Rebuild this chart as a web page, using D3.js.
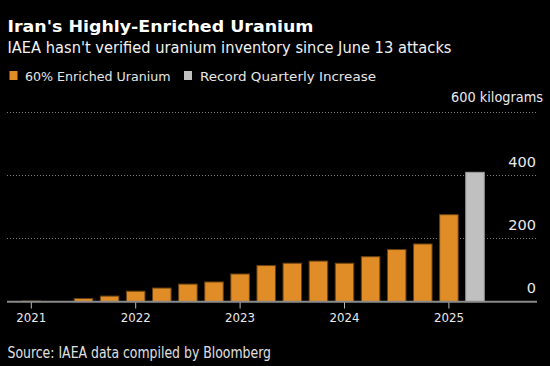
<!DOCTYPE html>
<html><head><meta charset="utf-8">
<script src="https://cdn.jsdelivr.net/npm/d3@7"></script>
<style>html,body{margin:0;padding:0;background:#000;}svg{display:block;}</style>
</head><body><svg id="c" width="550" height="366"></svg>
<script>
// ---- data ----
const quarters = ["Feb 2021","May 2021","Sep 2021","Nov 2021","Feb 2022","May 2022","Sep 2022","Nov 2022",
  "Feb 2023","May 2023","Sep 2023","Nov 2023","Feb 2024","May 2024","Aug 2024","Nov 2024","Feb 2025","May 2025"];
const enriched60 = [2, 0, 10, 17.7, 33.2, 43.1, 55.6, 62.3, 87.5, 114.1, 121.6, 128.3, 121.5, 142.1, 164.7, 182.3, 274.8, null];
const recordIncrease = [null, null, null, null, null, null, null, null, null, null, null, null, null, null, null, null, null, 408.6];
const yearTickIndex = [0, 4, 8, 12, 16];
const yearTickLabels = ["2021", "2022", "2023", "2024", "2025"];
const yTicks = [0, 200, 400];
const yMax = 600;
const seriesNames = ["60% Enriched Uranium", "Record Quarterly Increase"];
const seriesColors = ["#E08D27", "#C0C0C0"];

const svg = d3.select("#c");
const FONT = "'DejaVu Sans', Verdana, sans-serif";

function txt(x, y, s, size, opts = {}) {
  const t = svg.append("text").attr("x", x).attr("y", y).text(s)
    .attr("font-family", FONT).attr("font-size", size)
    .attr("fill", opts.fill || "#fff")
    .attr("font-weight", opts.bold ? "bold" : "normal")
    .attr("text-anchor", opts.anchor || "start");
  if (opts.len) t.attr("textLength", opts.len).attr("lengthAdjust", "spacingAndGlyphs");
  return t;
}

// titles
txt(7.5, 32, "Iran's Highly-Enriched Uranium", 16, {bold: true, len: 306});
txt(7.5, 52.5, "IAEA hasn't verified uranium inventory since June 13 attacks", 15, {len: 444, fill: "#f2f2f2"});

// legend
const lg = [{x: 9.5, tx: 25, len: 145.5}, {x: 184, tx: 200, len: 176}];
seriesNames.forEach((n, i) => {
  svg.append("rect").attr("x", lg[i].x).attr("y", 71).attr("width", 8).attr("height", 9)
    .attr("fill", seriesColors[i]);
  txt(lg[i].tx, 80.5, n, 13, {len: lg[i].len, fill: "#e6e6e6"});
});

// scales
const x = d3.scaleBand().domain(d3.range(quarters.length)).range([18.25, 488.05])
  .paddingInner(0.29).paddingOuter(0.145);
const y = d3.scaleLinear().domain([0, yMax]).range([301.7, 111.7]);
const gridX0 = 7, gridX1 = 537;

// gridlines
[...yTicks.filter(v => v > 0), yMax].forEach(v => {
  svg.append("line").attr("x1", gridX0).attr("x2", gridX1).attr("y1", Math.round(y(v)) + 0.5).attr("y2", Math.round(y(v)) + 0.5)
    .attr("stroke", "#808080").attr("stroke-width", 1).attr("stroke-dasharray", "1,2");
});

// y labels
yTicks.forEach(v => {
  txt(536, y(v) - 8.5, String(v), 14.5, {anchor: "end", fill: "#eaeaea"});
});
txt(451, y(yMax) - 9.5, yMax + " kilograms", 13.5, {fill: "#eaeaea", len: 92});

// bars
const bars = svg.append("g");
enriched60.forEach((v, i) => {
  if (v == null) return;
  bars.append("rect").attr("x", x(i)).attr("width", x.bandwidth())
    .attr("y", y(v)).attr("height", Math.max(0, y(0) - y(v)))
    .attr("fill", seriesColors[0]).attr("stroke", "#6a4210").attr("stroke-width", 1);
});
recordIncrease.forEach((v, i) => {
  if (v == null) return;
  bars.append("rect").attr("x", x(i)).attr("width", x.bandwidth())
    .attr("y", y(v)).attr("height", y(0) - y(v))
    .attr("fill", seriesColors[1]).attr("stroke", "#9a9a9a").attr("stroke-width", 1);
});

// baseline
svg.append("line").attr("x1", gridX0).attr("x2", gridX1).attr("y1", 301.7).attr("y2", 301.7)
  .attr("stroke", "#8a8a8a").attr("stroke-width", 2);

// x axis
const xAxis = d3.axisBottom(x).tickValues(yearTickIndex)
  .tickFormat(i => yearTickLabels[yearTickIndex.indexOf(i)]).tickSize(6).tickPadding(4);
const ax = svg.append("g").attr("transform", "translate(0,302.5)").call(xAxis);
ax.select(".domain").remove();
ax.selectAll(".tick line").attr("stroke", "#bbb");
ax.selectAll(".tick text").attr("font-family", FONT).attr("font-size", 13).attr("fill", "#eaeaea")
  .attr("textLength", 30).attr("lengthAdjust", "spacingAndGlyphs");

// source
txt(7.5, 357.5, "Source: IAEA data compiled by Bloomberg", 15, {len: 263.5, fill: "#e0e0e0"});
</script></body></html>
